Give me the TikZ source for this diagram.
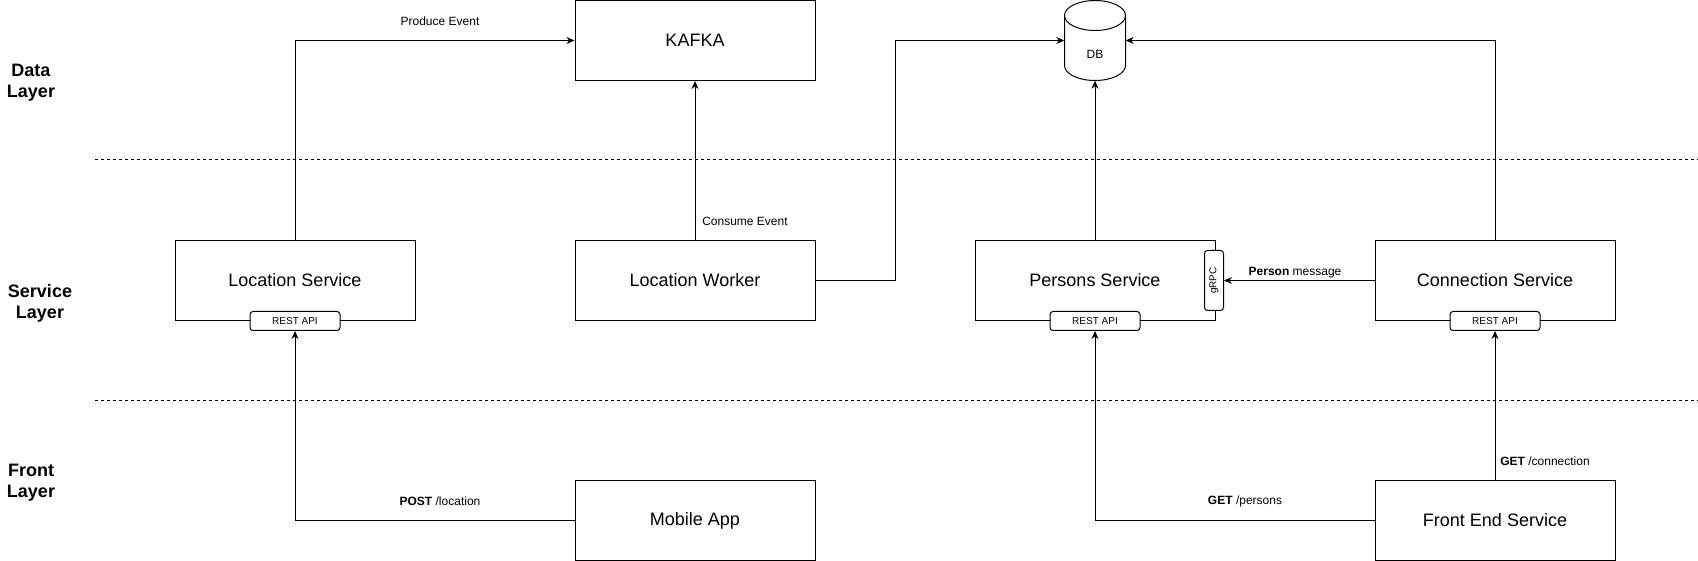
\documentclass[tikz,border=0pt]{standalone}
\usepackage{fontspec}
\usepackage{graphicx}
\setmainfont{Liberation Sans}
\usetikzlibrary{arrows.meta}
\begin{document}
\begin{tikzpicture}[x=1pt,y=-1pt,
  box/.style={draw,line width=1pt,minimum width=240pt,minimum height=80pt,inner sep=0pt,font=\fontsize{18}{21}\selectfont},
  tag/.style={draw,line width=1pt,fill=white,rounded corners=3pt,minimum width=90pt,minimum height=19pt,inner sep=0pt,font=\fontsize{10}{12}\selectfont},
  lbl/.style={font=\fontsize{12}{14}\selectfont,inner sep=0pt},
  layer/.style={font=\fontsize{18}{21}\selectfont\bfseries,align=center,inner sep=0pt},
  arr/.style={line width=1pt,-{Stealth[length=8pt,width=7pt]}},
  sep/.style={line width=1pt,dash pattern=on 3pt off 3pt}]
\useasboundingbox (0,0) rectangle (1698,561);
% layer labels
\node[layer] (ldata) at (31,83) {Data\\Layer};
\node[layer] (lserv) at (40,303) {Service\\Layer};
\node[layer] (lfront) at (31,483) {Front\\Layer};
% separators
\coordinate (s1a) at (95,160); \coordinate (s1b) at (1698,160);
\coordinate (s2a) at (95,400); \coordinate (s2b) at (1698,400);
\draw[sep] (s1a) -- (s1b);
\draw[sep] (s2a) -- (s2b);
% boxes
\node[box] (kafka) at (695,40.5) {KAFKA};
\node[box] (locsvc) at (295,280.5) {Location Service};
\node[box] (locwork) at (695,280.5) {Location Worker};
\node[box] (pers) at (1095,280.5) {Persons Service};
\node[box] (conn) at (1495,280.5) {Connection Service};
\node[box] (mobile) at (695,520.5) {Mobile App};
\node[box] (front) at (1495,520.5) {Front End Service};
% tags
\node[tag] (rest1) at (295,321) {REST API};
\node[tag] (rest2) at (1095,321) {REST API};
\node[tag] (rest3) at (1495,321) {REST API};
\node[draw,line width=1pt,fill=white,rounded corners=3pt,minimum width=19pt,minimum height=60pt,inner sep=0pt,font=\fontsize{10}{12}\selectfont] (grpc) at (1214,280.5) {\rotatebox{90}{gRPC}};
% DB cylinder
\node[minimum width=61pt,minimum height=80pt,inner sep=0pt] (db) at (1095,40.5) {};
\draw[line width=1pt,fill=white] (1064.5,15.5) -- (1064.5,65.5) arc[start angle=180,end angle=0,x radius=30.5,y radius=15] -- (1125.5,15.5);
\draw[line width=1pt,fill=white] (1095,15.5) ellipse[x radius=30.5,y radius=15];
\node[lbl] (dbt) at (1095,54) {DB};
% connectors
\draw[arr] (locsvc.north) |- (kafka.west);
\draw[arr] (locwork.north) -- (kafka.south);
\draw[arr] (locwork.east) -- ++(80,0) |- (db.west);
\draw[arr] (pers.north) -- (db.south);
\draw[arr] (conn.north) |- (db.east);
\draw[arr] (conn.west) -- (grpc.east);
\draw[arr] (mobile.west) -| (rest1.south);
\draw[arr] (front.west) -| (rest2.south);
\draw[arr] (front.north) -- (rest3.south);
% labels
\node[lbl] (t1) at (440,21) {Produce Event};
\node[lbl] (t2) at (745,221) {Consume Event};
\node[lbl] (t3) at (1295,272.5) {\textbf{Person} message};
\node[lbl] (t4) at (440,501) {\textbf{POST} /location};
\node[lbl] (t5) at (1245,501) {\textbf{GET} /persons};
\node[lbl] (t6) at (1545,461) {\textbf{GET} /connection};
\end{tikzpicture}
\end{document}
